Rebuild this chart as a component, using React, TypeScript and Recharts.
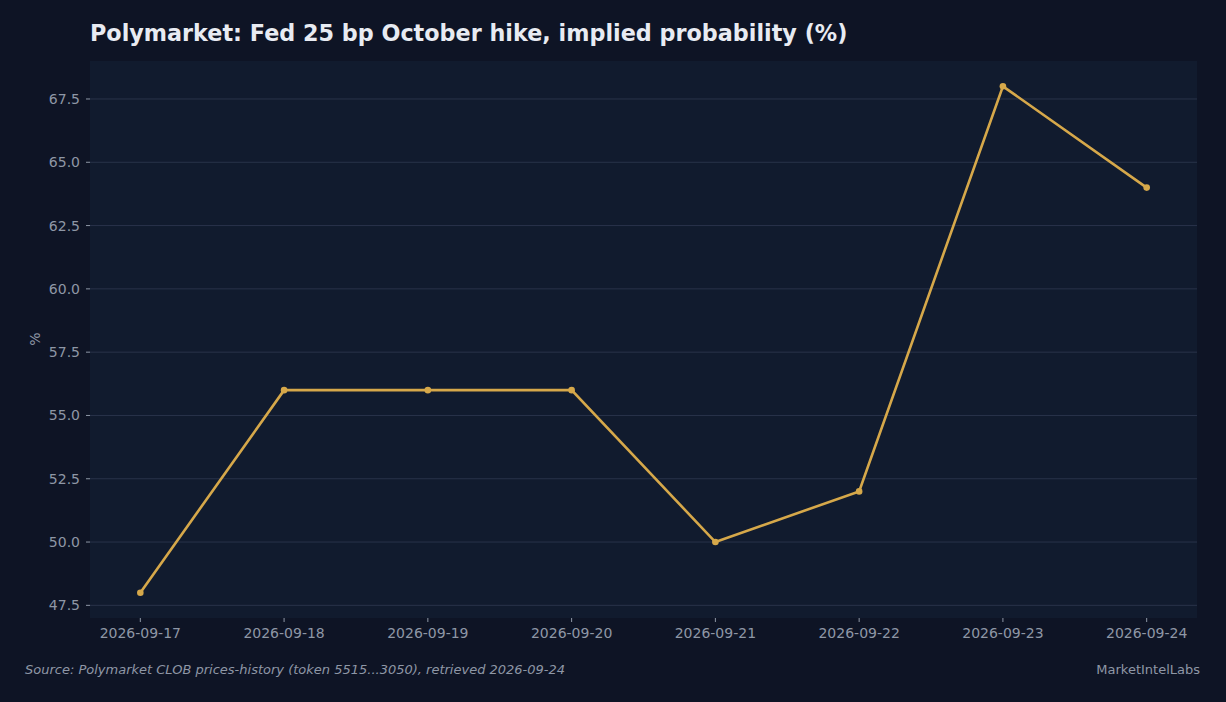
import React from 'react'
import { LineChart, Line, XAxis, YAxis, CartesianGrid } from 'recharts'

const dates = ['2026-09-17', '2026-09-18', '2026-09-19', '2026-09-20', '2026-09-21', '2026-09-22', '2026-09-23', '2026-09-24']
const probability = [48, 56, 56, 56, 50, 52, 68, 64]
const yTicks = [47.5, 50, 52.5, 55, 57.5, 60, 62.5, 65, 67.5]

const data = dates.map((d, i) => ({ idx: i, date: d, value: probability[i] }))

const FONT = '"DejaVu Sans", sans-serif'
const TICK = { fontSize: 14, fill: '#8e97a6', fontFamily: FONT }

export default function App() {
    return (
        <div style={{ position: 'fixed', left: 0, top: 0, width: 1226, height: 702, background: '#0e1425', fontFamily: FONT, overflow: 'hidden' }}>
            <div style={{ position: 'absolute', left: 90, top: 20, fontSize: 22.3, fontWeight: 'bold', color: '#e8ebf2', whiteSpace: 'nowrap' }}>
                Polymarket: Fed 25 bp October hike, implied probability (%)
            </div>
            <LineChart width={1226} height={702} data={data} margin={{ top: 61, right: 29, bottom: 54, left: 30 }}>
                <CartesianGrid vertical={false} stroke="#29334a" strokeWidth={1} fill="#111b2e" horizontalValues={yTicks} />
                <XAxis
                    dataKey="idx"
                    type="number"
                    domain={[-0.35, 7.35]}
                    ticks={[0, 1, 2, 3, 4, 5, 6, 7]}
                    tickFormatter={(v) => dates[v]}
                    axisLine={false}
                    tickLine={{ stroke: '#8e97a6' }}
                    tickSize={4}
                    tickMargin={6}
                    height={30}
                    tick={TICK}
                    interval={0}
                />
                <YAxis
                    type="number"
                    domain={[47, 69]}
                    ticks={yTicks}
                    tickFormatter={(v) => v.toFixed(1)}
                    axisLine={false}
                    tickLine={{ stroke: '#8e97a6' }}
                    tickSize={4}
                    tickMargin={6}
                    width={60}
                    tick={TICK}
                    allowDataOverflow
                />
                <Line
                    type="linear"
                    dataKey="value"
                    stroke="#d6a84a"
                    strokeWidth={2.6}
                    dot={{ r: 3.3, fill: '#d6a84a', stroke: '#d6a84a', strokeWidth: 0 }}
                    activeDot={false}
                    isAnimationActive={false}
                />
            </LineChart>
            <div style={{ position: 'absolute', left: 35, top: 339, transform: 'translate(-50%, -50%) rotate(-90deg)', fontSize: 14, color: '#8e97a6' }}>%</div>
            <div style={{ position: 'absolute', left: 25, top: 662, fontSize: 13, fontStyle: 'italic', color: '#8e97a6', whiteSpace: 'nowrap' }}>
                Source: Polymarket CLOB prices-history (token 5515...3050), retrieved 2026-09-24
            </div>
            <div style={{ position: 'absolute', right: 26, top: 662, fontSize: 13, color: '#8e97a6', whiteSpace: 'nowrap' }}>
                MarketIntelLabs
            </div>
        </div>
    )
}
